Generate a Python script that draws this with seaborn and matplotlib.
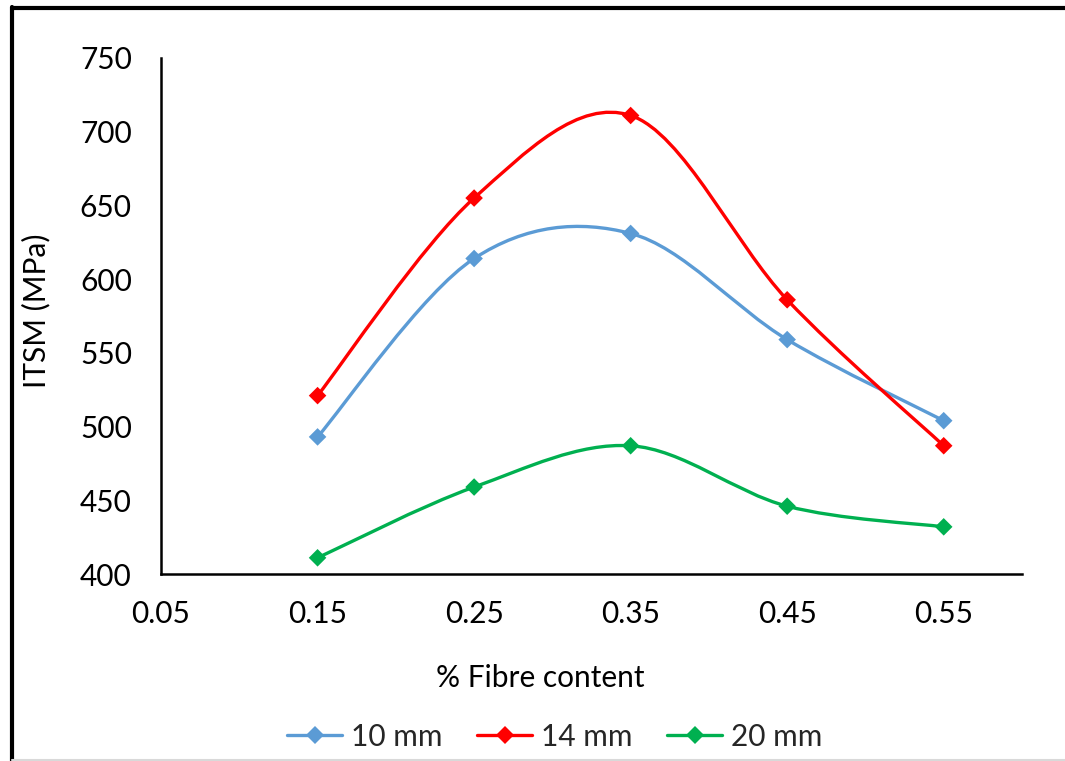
import numpy as np
import pandas as pd
import seaborn as sns

import matplotlib
matplotlib.use('Agg')
import matplotlib.pyplot as plt
from matplotlib.path import Path
from matplotlib.patches import PathPatch
from matplotlib.lines import Line2D

# data
fibre = [0.15, 0.25, 0.35, 0.45, 0.55]
itsm_10mm = [493, 614, 631, 559, 504]
itsm_14mm = [521, 655, 711, 586, 487]
itsm_20mm = [411, 459, 487, 446, 432]
series_names = ['10 mm', '14 mm', '20 mm']
colors = ['#5B9BD5', '#FF0000', '#00B050']


def smooth_path(x, y):
    """Excel-like smoothed line: Catmull-Rom segments as cubic Beziers."""
    pts = np.column_stack([x, y]).astype(float)
    pad = np.vstack([pts[0], pts, pts[-1]])
    verts = [pts[0]]
    codes = [Path.MOVETO]
    for i in range(1, len(pad) - 2):
        p0, p1, p2, p3 = pad[i - 1], pad[i], pad[i + 1], pad[i + 2]
        verts += [p1 + (p2 - p0) / 6, p2 - (p3 - p1) / 6, p2]
        codes += [Path.CURVE4] * 3
    return Path(verts, codes)


df = pd.DataFrame({
    'fibre': fibre * 3,
    'itsm': itsm_10mm + itsm_14mm + itsm_20mm,
    'size': [n for n in series_names for _ in fibre],
})

sns.set_theme(style='white')
plt.rcParams['font.family'] = ['Lato', 'DejaVu Sans']
FS = 21.5

fig = plt.figure(figsize=(10.65, 7.61), dpi=100)
ax = fig.add_axes([0.1512, 0.2457, 0.8084, 0.6781])

# smooth curves
for name, col in zip(series_names, colors):
    sub = df[df['size'] == name]
    patch = PathPatch(smooth_path(sub['fibre'], sub['itsm']), facecolor='none',
                      edgecolor=col, lw=2.4, transform=ax.transData, zorder=2)
    ax.add_patch(patch)

# diamond markers on top
sns.scatterplot(data=df, x='fibre', y='itsm', hue='size', palette=colors,
                marker='D', s=80, edgecolor='none', legend=False, ax=ax, zorder=3)

ax.set_xlim(0.05, 0.6)
ax.set_ylim(400, 750)
ax.set_xticks([0.05, 0.15, 0.25, 0.35, 0.45, 0.55])
ax.set_xticklabels(['0.05', '0.15', '0.25', '0.35', '0.45', '0.55'])
ax.set_yticks(range(400, 751, 50))

for s in ['top', 'right']:
    ax.spines[s].set_visible(False)
for s in ['left', 'bottom']:
    ax.spines[s].set_color('black')
    ax.spines[s].set_linewidth(1.8)
ax.tick_params(axis='both', direction='out', length=7, width=1.8,
               color='black', labelsize=FS, labelcolor='black')
ax.tick_params(axis='y', pad=14)
ax.tick_params(axis='x', pad=12)

ax.set_xlabel('% Fibre content', fontsize=FS, color='black')
ax.set_ylabel('ITSM (MPa)', fontsize=FS, color='black')
ax.xaxis.set_label_coords(0.441, -0.175)
ax.yaxis.set_label_coords(-0.128, 0.51)

handles = [Line2D([0], [0], color=c, lw=2.4, marker='D', markersize=9,
                  markeredgewidth=0) for c in colors]
fig.legend(handles, series_names, loc='center', bbox_to_anchor=(0.521, 0.032),
           ncol=3, frameon=False, fontsize=FS, handlelength=1.85,
           handletextpad=0.3, columnspacing=1.15)

# figure frame (left and top dark, bottom light)
fig.add_artist(Line2D([0.0108, 0.0108], [0, 0.9908], color='black', lw=3,
                      transform=fig.transFigure))
fig.add_artist(Line2D([0.0108, 1], [0.9895, 0.9895], color='black', lw=3,
                      transform=fig.transFigure))
fig.add_artist(Line2D([0.0108, 1], [0.001, 0.001], color='#D9D9D9', lw=1.5,
                      transform=fig.transFigure))

plt.savefig('out.png', dpi=100)
plt.close()
